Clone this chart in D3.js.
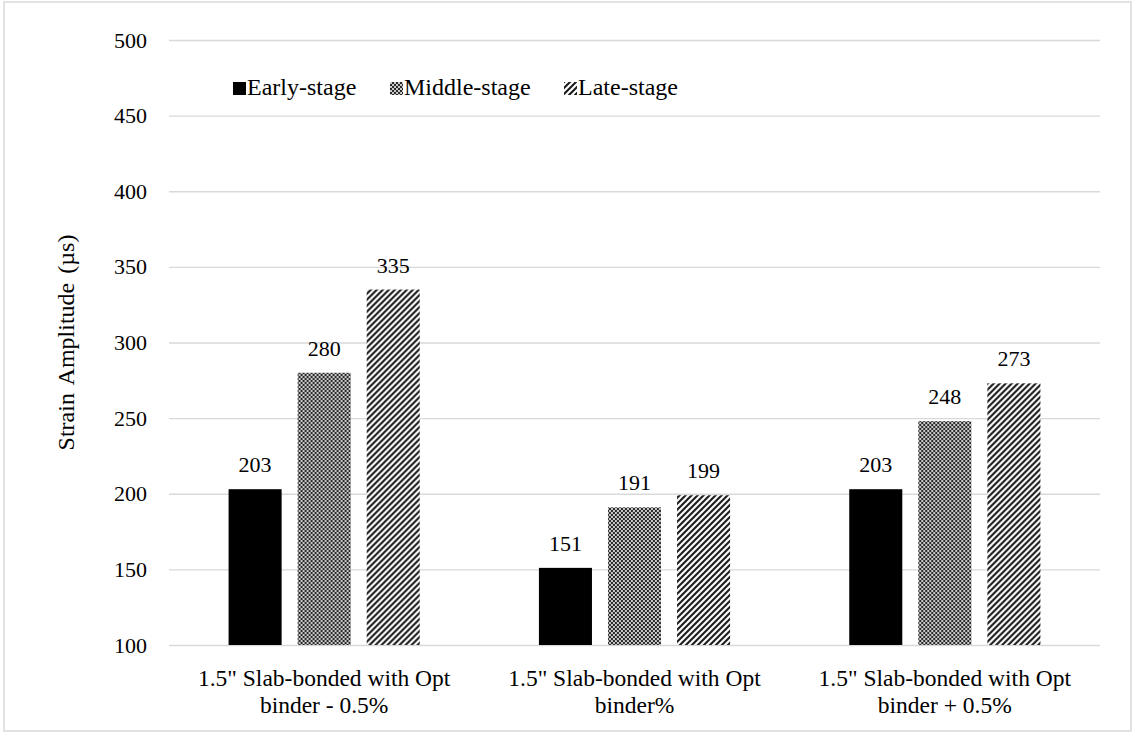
<!DOCTYPE html>
<html>
<head>
<meta charset="utf-8">
<script src="https://cdn.jsdelivr.net/npm/d3@7"></script>
<style>
  html, body { margin: 0; padding: 0; background: #fff; }
  svg { display: block; }
</style>
</head>
<body>
<svg id="chart" width="1133" height="733"></svg>
<script>
const categories = [
  ['1.5" Slab-bonded with Opt', 'binder - 0.5%'],
  ['1.5" Slab-bonded with Opt', 'binder%'],
  ['1.5" Slab-bonded with Opt', 'binder + 0.5%']
];
const seriesNames = ["Early-stage", "Middle-stage", "Late-stage"];
const earlyValues = [203, 151, 203];
const middleValues = [280, 191, 248];
const lateValues = [335, 199, 273];
const yTicks = [100, 150, 200, 250, 300, 350, 400, 450, 500];
const yTitle = "Strain Amplitude (µs)";

const seriesValues = [earlyValues, middleValues, lateValues];
const FONT = "'Liberation Serif', 'Times New Roman', Times, serif";

const svg = d3.select("#chart").attr("font-family", FONT);
const W = 1133, H = 733;
const plot = { left: 169, right: 1100, top: 40, bottom: 645 };

// patterns
const defs = svg.append("defs");
const checker = defs.append("pattern").attr("id", "pat-mid")
  .attr("patternUnits", "userSpaceOnUse").attr("width", 4).attr("height", 4);
checker.append("rect").attr("width", 4).attr("height", 4).attr("fill", "#2a2a2a");
checker.append("rect").attr("x", 0).attr("y", 0).attr("width", 2).attr("height", 2).attr("fill", "#c8c8c8");
checker.append("rect").attr("x", 2).attr("y", 2).attr("width", 2).attr("height", 2).attr("fill", "#c8c8c8");

const stripes = defs.append("pattern").attr("id", "pat-late")
  .attr("patternUnits", "userSpaceOnUse").attr("width", 6).attr("height", 6);
stripes.append("rect").attr("width", 6).attr("height", 6).attr("fill", "#fff");
stripes.append("path").attr("d", "M-1,1 l2,-2 M0,6 l6,-6 M5,7 l2,-2")
  .attr("stroke", "#1a1a1a").attr("stroke-width", 2.1);

const fills = ["#000", "url(#pat-mid)", "url(#pat-late)"];

// outer border
svg.append("rect").attr("x", 4).attr("y", 2).attr("width", W - 6).attr("height", H - 4)
  .attr("fill", "#fff").attr("stroke", "#d9d9d9").attr("stroke-width", 1.5);

const y = d3.scaleLinear().domain([100, 500]).range([plot.bottom, plot.top]);
const x0 = d3.scaleBand().domain(d3.range(categories.length))
  .range([plot.left, plot.right]).paddingInner(0.384).paddingOuter(0.192);
const x1 = d3.scaleBand().domain(d3.range(seriesNames.length))
  .range([0, x0.bandwidth()]).paddingInner(0.232).paddingOuter(0);

// gridlines
svg.append("g").selectAll("line").data(yTicks).join("line")
  .attr("x1", plot.left).attr("x2", plot.right)
  .attr("y1", d => y(d) + 0.5).attr("y2", d => y(d) + 0.5)
  .attr("stroke", "#d9d9d9").attr("stroke-width", 1.4);

// y axis labels
const yAxis = d3.axisLeft(y).tickValues(yTicks).tickSize(0).tickPadding(22);
const gy = svg.append("g").attr("transform", `translate(${plot.left},0)`).call(yAxis);
gy.attr("font-family", FONT).attr("font-size", 22);
gy.select(".domain").remove();
gy.selectAll("text").attr("fill", "#000");

// y title
svg.append("text")
  .attr("transform", `translate(74,${(plot.top + plot.bottom) / 2}) rotate(-90)`)
  .attr("text-anchor", "middle").attr("font-family", FONT).attr("font-size", 24)
  .attr("word-spacing", 3)
  .text(yTitle);

// bars
const groups = svg.append("g").selectAll("g").data(categories).join("g")
  .attr("transform", (d, i) => `translate(${x0(i)},0)`);

groups.each(function (cat, ci) {
  const g = d3.select(this);
  seriesNames.forEach((s, si) => {
    const v = seriesValues[si][ci];
    g.append("rect")
      .attr("x", x1(si)).attr("y", y(v))
      .attr("width", x1.bandwidth()).attr("height", y(100) - y(v))
      .attr("fill", fills[si]);
    g.append("text")
      .attr("x", x1(si) + x1.bandwidth() / 2).attr("y", y(v) - 17)
      .attr("text-anchor", "middle").attr("font-family", FONT).attr("font-size", 22)
      .text(d3.format("d")(v));
  });
});

// category labels
const cat = svg.append("g").selectAll("text").data(categories).join("text")
  .attr("x", (d, i) => x0(i) + x0.bandwidth() / 2)
  .attr("y", 686).attr("text-anchor", "middle")
  .attr("font-family", FONT).attr("font-size", 23.5);
cat.selectAll("tspan").data(d => d).join("tspan")
  .attr("x", function () { return d3.select(this.parentNode).attr("x"); })
  .attr("dy", (d, i) => i === 0 ? 0 : 27)
  .text(d => d);

// legend
const legendX = [233, 390, 564];
const lg = svg.append("g").selectAll("g").data(seriesNames).join("g")
  .attr("transform", (d, i) => `translate(${legendX[i]},82)`);
lg.append("rect").attr("width", 13).attr("height", 13).attr("fill", (d, i) => fills[i]);
lg.append("text").attr("x", 14).attr("y", 13).attr("font-family", FONT).attr("font-size", 24).text(d => d);
</script>
</body>
</html>
